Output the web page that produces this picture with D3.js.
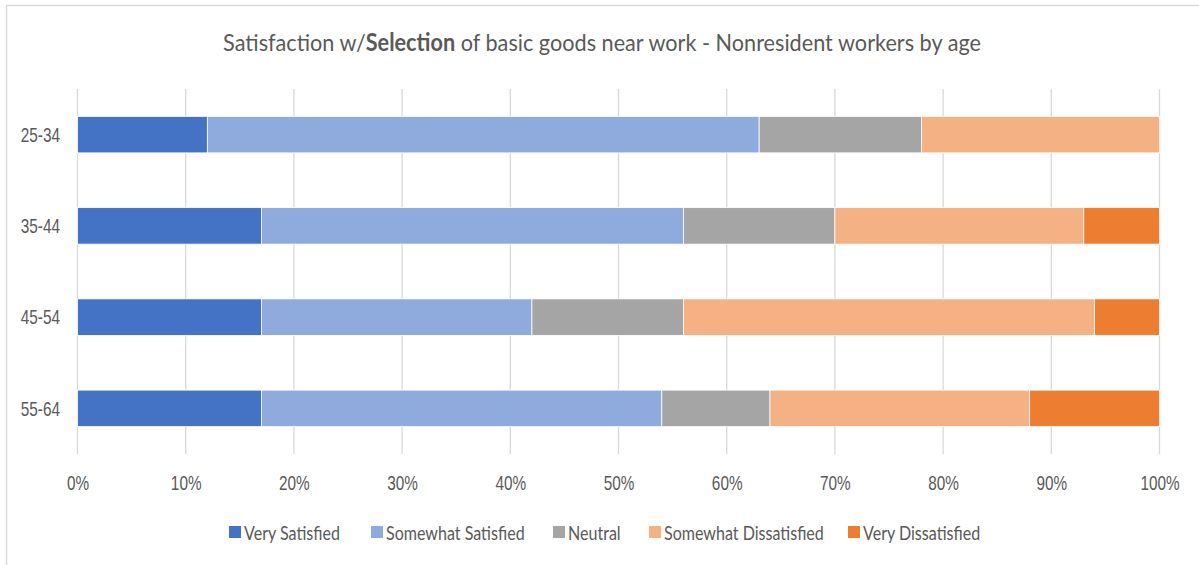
<!DOCTYPE html>
<html><head><meta charset="utf-8">
<script src="https://cdn.jsdelivr.net/npm/d3@7"></script>
<style>body{margin:0;background:#fff;}svg{display:block;font-family:Lato,"Open Sans",sans-serif;}</style>
</head><body>
<svg id="c" width="1199" height="565"></svg>
<script>
const categories = ["25-34","35-44","45-54","55-64"];
const seriesNames = ["Very Satisfied","Somewhat Satisfied","Neutral","Somewhat Dissatisfied","Very Dissatisfied"];
const verySatisfied = [12,17,17,17];
const somewhatSatisfied = [51,39,25,37];
const neutral = [15,14,14,10];
const somewhatDissatisfied = [22,23,38,24];
const veryDissatisfied = [0,7,6,12];
const tickValues = [0,10,20,30,40,50,60,70,80,90,100];
const colors = ["#4472C4","#8FAADC","#A5A5A5","#F4B183","#ED7D31"];

const seriesVals = [verySatisfied,somewhatSatisfied,neutral,somewhatDissatisfied,veryDissatisfied];
const table = categories.map((c,i)=>{const o={cat:c}; seriesNames.forEach((s,j)=>o[s]=seriesVals[j][i]); return o;});
const stack = d3.stack().keys(seriesNames)(table);

const svg = d3.select("#c");
svg.append("rect").attr("x",6.5).attr("y",5.5).attr("width",1200).attr("height",570)
  .attr("fill","#fff").attr("stroke","#d9d9d9").attr("stroke-width",1.5);

function measure(str, size, weight){
  const t = svg.append("text").style("font-size",size+"px").attr("font-weight",weight||"normal").text(str);
  const w = t.node().getComputedTextLength(); t.remove(); return w;
}
const FS = 20;
const kAxis = 39 / measure("100%", FS);
const kLeg = 96 / measure("Very Satisfied", FS);

const x = d3.scaleLinear().domain([0,100]).range([77.5,1159.5]);
const y = d3.scaleBand().domain(categories).range([89,454]).paddingInner(0.6).paddingOuter(0.3);

svg.append("g").selectAll("line").data(tickValues).join("line")
  .attr("x1",d=>x(d)).attr("x2",d=>x(d)).attr("y1",89).attr("y2",454)
  .attr("stroke","#d9d9d9").attr("stroke-width",1.3);

svg.append("g").selectAll("g").data(stack).join("g")
  .attr("fill",(d,i)=>colors[i])
  .selectAll("rect").data(d=>d).join("rect")
  .attr("x",d=>x(d[0])).attr("width",d=>Math.max(0,x(d[1])-x(d[0])))
  .attr("y",d=>y(d.data.cat)).attr("height",y.bandwidth())
  .attr("stroke","#fff").attr("stroke-width",0.8);

const xa = d3.axisBottom(x).tickValues(tickValues).tickFormat(d=>d+"%").tickSize(0).tickPadding(0);
const gx = svg.append("g").attr("transform","translate(0,490)").call(xa);
gx.select(".domain").remove();
gx.selectAll("text").attr("fill","#595959").style("font-size",FS+"px").attr("dy",0).attr("y",0)
  .attr("transform",`scale(${kAxis},1)`);

const ya = d3.axisLeft(y).tickSize(0).tickPadding(0);
const gy = svg.append("g").attr("transform","translate(60,0)").call(ya);
gy.select(".domain").remove();
gy.selectAll("text").attr("fill","#595959").style("font-size",FS+"px").attr("dy","0.36em")
  .attr("transform",`scale(${kAxis},1)`);

const TS = 24;
const titleParts = [["Satisfaction w/","normal"],["Selection","bold"],[" of basic goods near work - Nonresident workers by age","normal"]];
const tg = svg.append("g").attr("transform","translate(602,51)");
const t = tg.append("text").attr("text-anchor","middle").attr("fill","#595959").style("font-size",TS+"px");
titleParts.forEach(p=>t.append("tspan").attr("font-weight",p[1]).text(p[0]));
const kTitle = 758 / t.node().getComputedTextLength();
t.attr("transform",`scale(${kTitle},1)`);

const legX = [229,371,553,649,848];
const lg = svg.append("g").selectAll("g").data(seriesNames).join("g")
  .attr("transform",(d,i)=>`translate(${legX[i]},526)`);
lg.append("rect").attr("width",12).attr("height",12).attr("fill",(d,i)=>colors[i]);
lg.append("text").attr("x",15/kLeg).attr("y",14).attr("fill","#595959").style("font-size",FS+"px")
  .attr("transform",`scale(${kLeg},1)`).text(d=>d);
</script>
</body></html>
